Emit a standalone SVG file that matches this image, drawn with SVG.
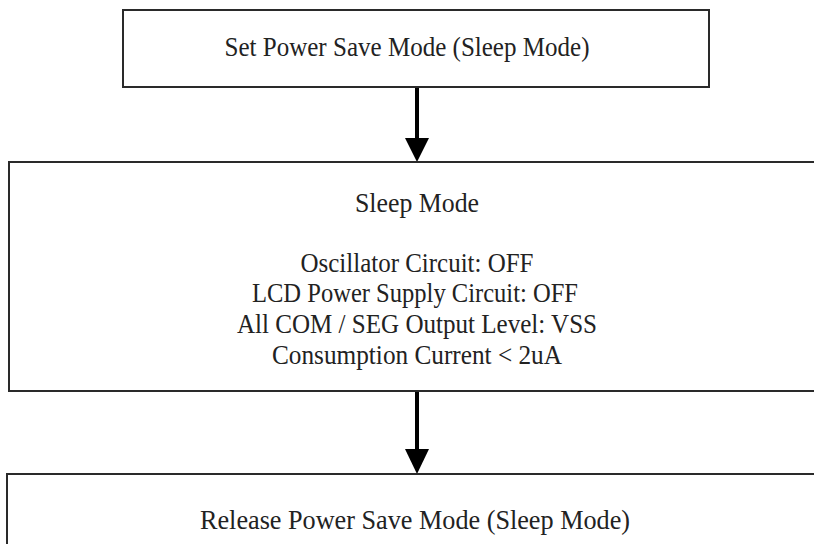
<svg xmlns="http://www.w3.org/2000/svg" width="814" height="544" viewBox="0 0 814 544">
<style>
.box{fill:#fff;stroke:#2a2a2a;stroke-width:2}
.t{font-family:"Liberation Serif","Times New Roman",serif;font-size:27px;fill:#222;text-anchor:middle}
.conn{stroke:#000;stroke-width:4;fill:none}
.head{fill:#000}
</style>
<rect width="814" height="544" fill="#fff"/>
<g id="connectors">
<line class="conn" x1="417" y1="87" x2="417" y2="142"/>
<polygon class="head" points="405,138 429,138 417,162"/>
<line class="conn" x1="417" y1="391" x2="417" y2="453"/>
<polygon class="head" points="405,449 429,449 417,474"/>
</g>
<g id="set">
<rect class="box" x="123" y="10" width="586" height="77"/>
<text class="t" x="407" y="56" textLength="365" lengthAdjust="spacingAndGlyphs">Set Power Save Mode (Sleep Mode)</text>
</g>
<g id="sleep">
<rect class="box" x="9" y="162" width="820" height="229"/>
<text class="t" x="417" y="212" textLength="124" lengthAdjust="spacingAndGlyphs">Sleep Mode</text>
<text class="t" x="417" y="272" textLength="233" lengthAdjust="spacingAndGlyphs">Oscillator Circuit: OFF</text>
<text class="t" x="415" y="302" textLength="326" lengthAdjust="spacingAndGlyphs">LCD Power Supply Circuit: OFF</text>
<text class="t" x="417" y="333" textLength="360" lengthAdjust="spacingAndGlyphs">All COM / SEG Output Level: VSS</text>
<text class="t" x="417" y="364" textLength="290" lengthAdjust="spacingAndGlyphs">Consumption Current &lt; 2uA</text>
</g>
<g id="release">
<rect class="box" x="7" y="474" width="820" height="90"/>
<text class="t" x="415" y="529" textLength="430" lengthAdjust="spacingAndGlyphs">Release Power Save Mode (Sleep Mode)</text>
</g>
</svg>
